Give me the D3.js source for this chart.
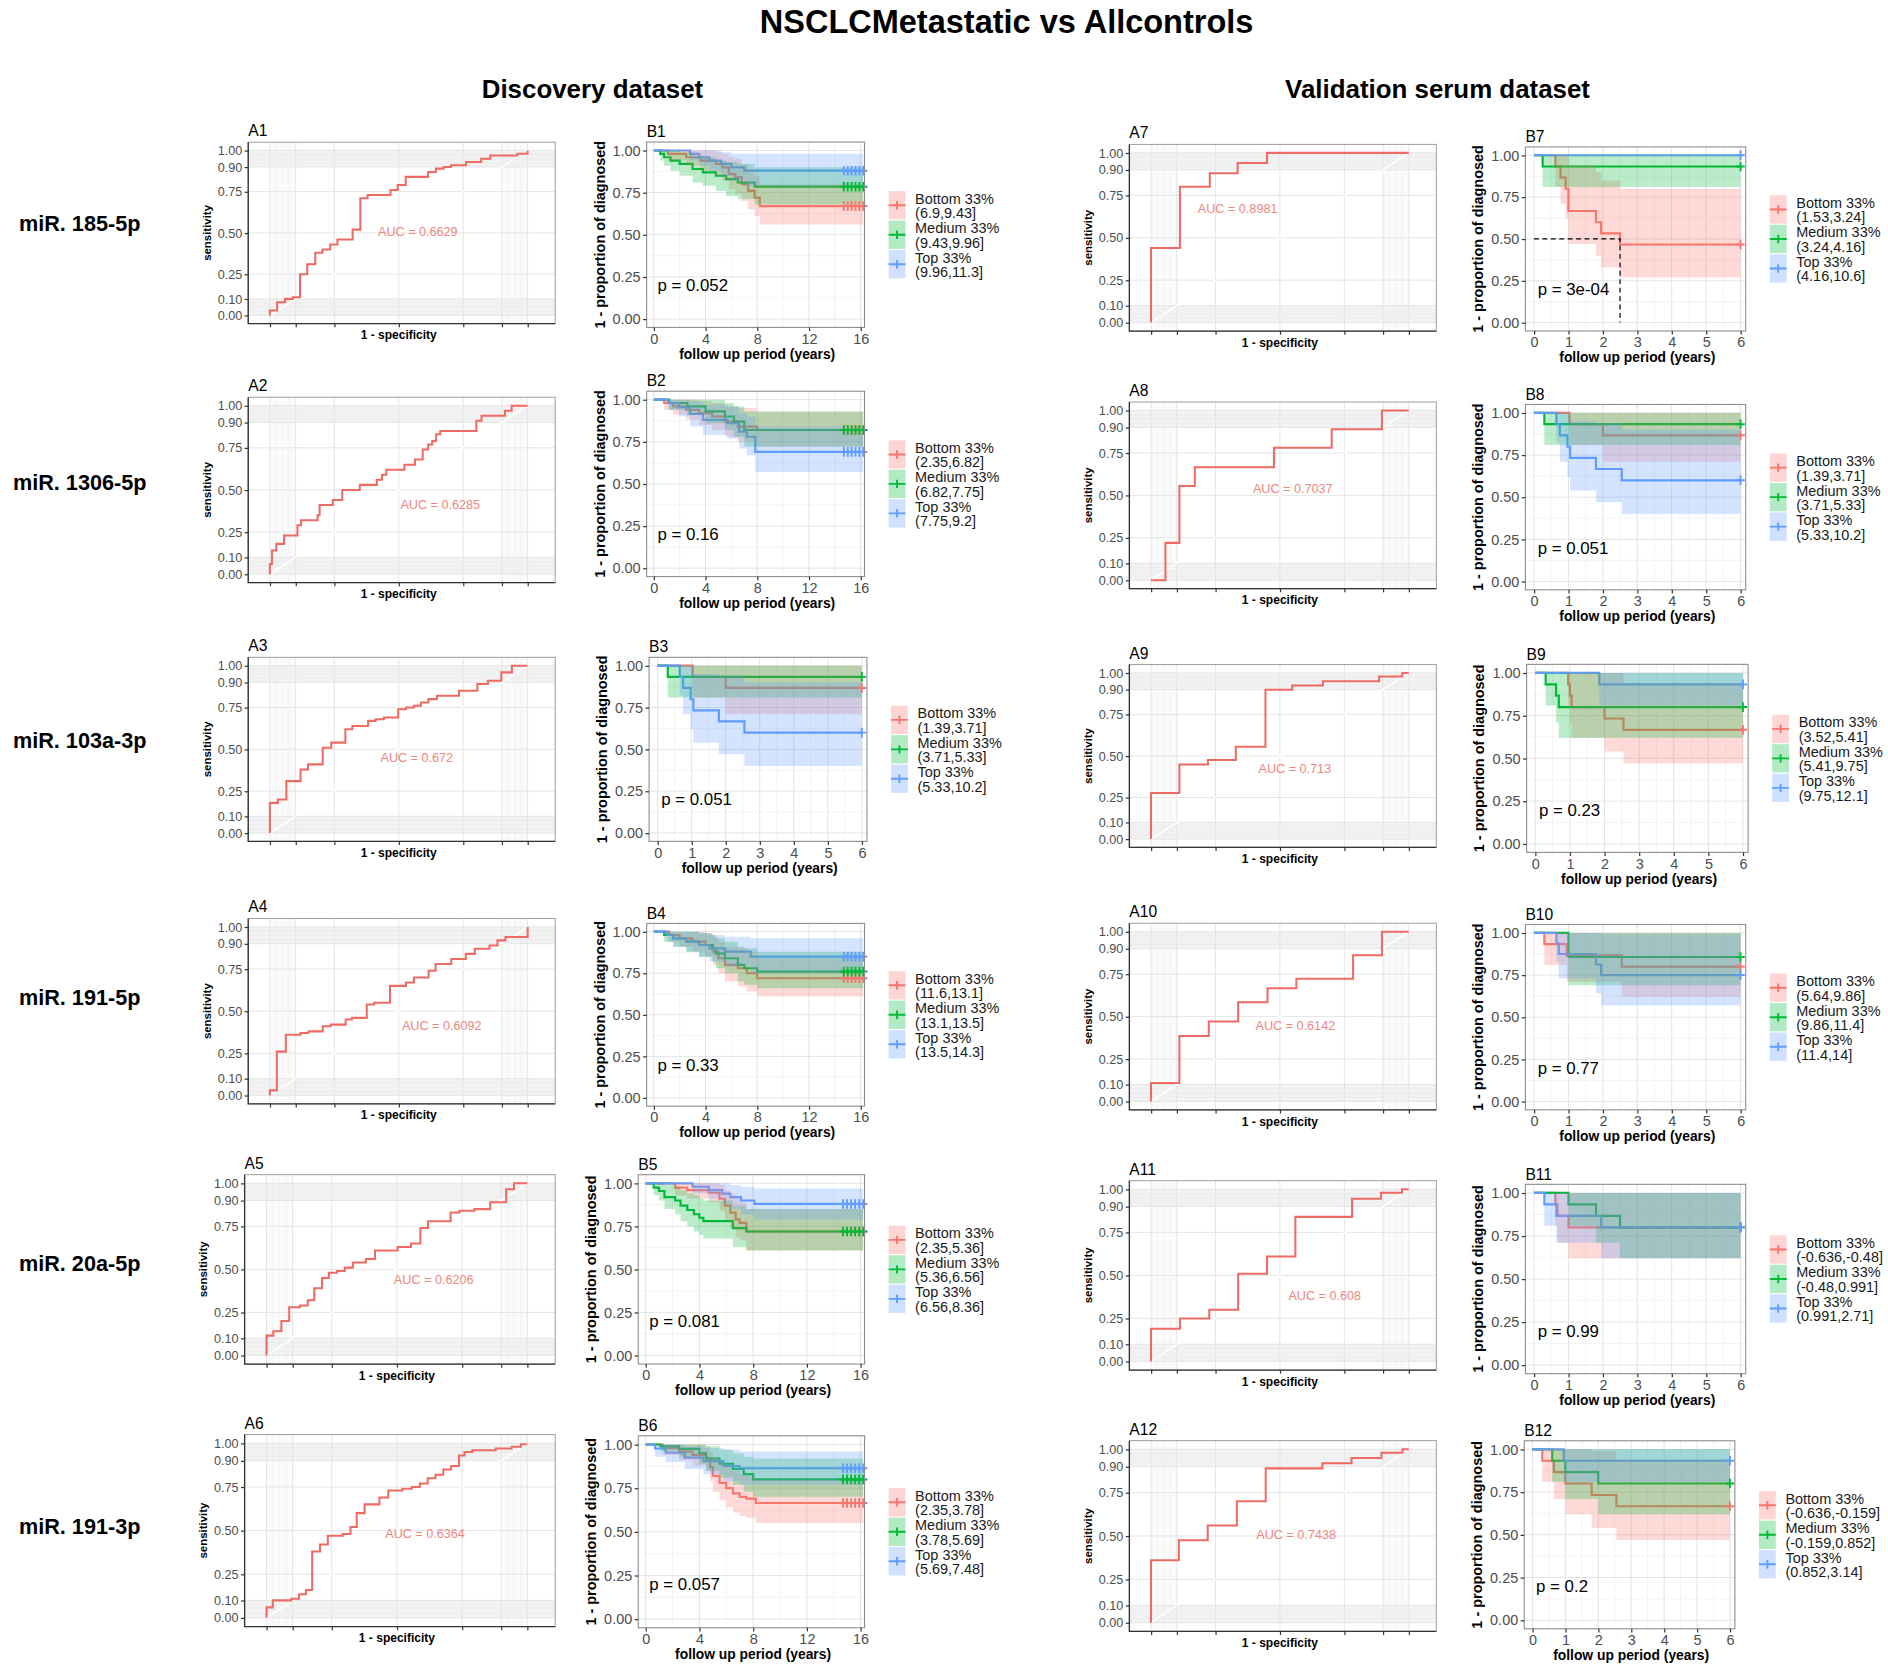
<!DOCTYPE html>
<html>
<head>
<meta charset="utf-8">
<script src="https://cdn.jsdelivr.net/npm/d3@7"></script>
<style>
  body { margin: 0; background: #fff; }
  svg { display: block; }
</style>
</head>
<body>
<svg id="fig" width="1888" height="1666" viewBox="0 0 1568 1384"></svg>
<script>
"use strict";

/* ── Texts ─────────────────────────────────────────────────────────── */
const TITLE    = "NSCLCMetastatic vs Allcontrols";
const DATASETS = ["Discovery dataset", "Validation serum dataset"];
const MIRNAS   = ["miR. 185-5p", "miR. 1306-5p", "miR. 103a-3p", "miR. 191-5p", "miR. 20a-5p", "miR. 191-3p"];
const AUC_VALUES = ["0.6629", "0.6285", "0.672", "0.6092", "0.6206", "0.6364",
                    "0.8981", "0.7037", "0.713", "0.6142", "0.608", "0.7438"];
const P_VALUES   = ["0.052", "0.16", "0.051", "0.33", "0.081", "0.057",
                    "3e-04", "0.051", "0.23", "0.77", "0.99", "0.2"];
const GROUP_NAMES  = ["Bottom 33%", "Medium 33%", "Top 33%"];
const GROUP_RANGES = [
  ["(6.9,9.43]",   "(9.43,9.96]",  "(9.96,11.3]"],
  ["(2.35,6.82]",  "(6.82,7.75]",  "(7.75,9.2]"],
  ["(1.39,3.71]",  "(3.71,5.33]",  "(5.33,10.2]"],
  ["(11.6,13.1]",  "(13.1,13.5]",  "(13.5,14.3]"],
  ["(2.35,5.36]",  "(5.36,6.56]",  "(6.56,8.36]"],
  ["(2.35,3.78]",  "(3.78,5.69]",  "(5.69,7.48]"],
  ["(1.53,3.24]",  "(3.24,4.16]",  "(4.16,10.6]"],
  ["(1.39,3.71]",  "(3.71,5.33]",  "(5.33,10.2]"],
  ["(3.52,5.41]",  "(5.41,9.75]",  "(9.75,12.1]"],
  ["(5.64,9.86]",  "(9.86,11.4]",  "(11.4,14]"],
  ["(-0.636,-0.48]", "(-0.48,0.991]", "(0.991,2.71]"],
  ["(-0.636,-0.159]", "(-0.159,0.852]", "(0.852,3.14]"],
];

/* ── Axis breaks ───────────────────────────────────────────────────── */
const ROC_BREAKS  = [0, 0.1, 0.25, 0.5, 0.75, 0.9, 1];
const KM_Y_BREAKS = [0, 0.25, 0.5, 0.75, 1];
const KM_X_LONG   = [0, 4, 8, 12, 16];
const KM_X_SHORT  = [0, 1, 2, 3, 4, 5, 6];

/* ── ROC curves: [1 - specificity, sensitivity] step corners ───────── */
const ROC_A1  = [[0,0],[0.028,0.03],[0.059,0.08],[0.089,0.10],[0.117,0.11],[0.145,0.25],[0.176,0.31],[0.204,0.38],[0.234,0.40],[0.262,0.43],[0.321,0.46],[0.351,0.52],[0.379,0.71],[0.468,0.73],[0.496,0.76],[0.527,0.79],[0.614,0.84],[0.644,0.87],[0.674,0.89],[0.703,0.90],[0.761,0.91],[0.820,0.93],[0.855,0.95],[0.960,0.97],[1,0.98],[1,1]];
const ROC_A2  = [[0,0],[0.008,0.06],[0.025,0.14],[0.055,0.18],[0.107,0.23],[0.121,0.29],[0.185,0.32],[0.193,0.35],[0.244,0.41],[0.281,0.44],[0.349,0.50],[0.415,0.53],[0.435,0.56],[0.452,0.59],[0.522,0.62],[0.563,0.65],[0.593,0.68],[0.614,0.74],[0.630,0.77],[0.645,0.79],[0.661,0.83],[0.801,0.85],[0.821,0.91],[0.912,0.94],[0.938,0.97],[1,1]];
const ROC_A3  = [[0,0],[0.031,0.18],[0.064,0.20],[0.119,0.31],[0.148,0.38],[0.205,0.41],[0.238,0.51],[0.293,0.54],[0.320,0.62],[0.381,0.64],[0.410,0.67],[0.443,0.68],[0.498,0.69],[0.529,0.74],[0.559,0.75],[0.586,0.76],[0.615,0.78],[0.648,0.80],[0.734,0.82],[0.805,0.85],[0.846,0.89],[0.898,0.91],[0.939,0.96],[1,1]];
const ROC_A4  = [[0,0],[0.027,0.03],[0.062,0.26],[0.119,0.36],[0.150,0.37],[0.205,0.38],[0.236,0.41],[0.294,0.42],[0.318,0.45],[0.376,0.46],[0.405,0.54],[0.466,0.55],[0.528,0.65],[0.559,0.67],[0.616,0.70],[0.643,0.74],[0.704,0.78],[0.760,0.81],[0.795,0.84],[0.852,0.87],[0.883,0.89],[0.914,0.92],[1,0.94],[1,1]];
const ROC_A5  = [[0,0],[0.026,0.115],[0.057,0.14],[0.087,0.20],[0.128,0.28],[0.158,0.29],[0.183,0.32],[0.213,0.39],[0.239,0.45],[0.270,0.48],[0.300,0.49],[0.331,0.51],[0.381,0.54],[0.416,0.56],[0.503,0.61],[0.554,0.63],[0.590,0.65],[0.619,0.74],[0.706,0.78],[0.740,0.83],[0.797,0.84],[0.858,0.85],[0.919,0.89],[0.949,0.965],[1,1]];
const ROC_A6  = [[0,0],[0.024,0.06],[0.095,0.10],[0.125,0.11],[0.151,0.135],[0.175,0.16],[0.205,0.38],[0.235,0.42],[0.292,0.47],[0.322,0.48],[0.346,0.52],[0.376,0.60],[0.433,0.65],[0.467,0.69],[0.521,0.73],[0.557,0.74],[0.588,0.75],[0.618,0.77],[0.648,0.80],[0.678,0.82],[0.708,0.85],[0.738,0.87],[0.759,0.93],[0.789,0.95],[0.879,0.96],[0.940,0.97],[0.976,0.98],[1,0.995]];
const ROC_A7  = [[0,0],[0.112,0.44],[0.228,0.80],[0.336,0.88],[0.450,0.94],[1,1]];
const ROC_A8  = [[0,0],[0.056,0],[0.110,0.22],[0.170,0.555],[0.477,0.665],[0.701,0.78],[0.896,0.89],[1,1]];
const ROC_A9  = [[0,0],[0.110,0.277],[0.221,0.448],[0.329,0.476],[0.444,0.556],[0.548,0.898],[0.667,0.924],[0.885,0.95],[0.975,0.978],[1,1]];
const ROC_A10 = [[0,0],[0.110,0.109],[0.224,0.386],[0.338,0.471],[0.452,0.584],[0.564,0.667],[0.784,0.723],[0.896,0.861],[1,1]];
const ROC_A11 = [[0,0],[0.112,0.19],[0.226,0.25],[0.338,0.30],[0.450,0.51],[0.560,0.61],[0.780,0.84],[0.892,0.945],[0.974,0.98],[1,1]];
const ROC_A12 = [[0,0],[0.108,0.36],[0.220,0.475],[0.333,0.56],[0.445,0.70],[0.665,0.89],[0.778,0.92],[0.894,0.95],[0.976,0.98],[1,1]];

/* ── Kaplan-Meier steps: [time, estimate, lower CI, upper CI] ──────── */
const KM_B1_BOTTOM = [[0,1,1,1],[1.1,0.98,0.94,1],[2.5,0.96,0.91,1],[3.6,0.94,0.88,1],[4.8,0.92,0.85,0.99],[5.3,0.90,0.82,0.98],[5.8,0.86,0.77,0.96],[6.3,0.84,0.74,0.95],[6.8,0.80,0.70,0.92],[7.3,0.76,0.65,0.89],[7.8,0.72,0.61,0.85],[8.2,0.67,0.56,0.80]];
const KM_B1_MEDIUM = [[0,1,1,1],[0.5,0.98,0.94,1],[0.8,0.96,0.91,1],[1.3,0.94,0.88,1],[2.0,0.92,0.85,0.99],[3.0,0.89,0.81,0.97],[3.8,0.87,0.79,0.96],[4.8,0.85,0.76,0.94],[5.6,0.83,0.73,0.93],[6.5,0.81,0.71,0.92],[7.8,0.785,0.68,0.90]];
const KM_B1_TOP    = [[0,1,1,1],[2.8,0.98,0.94,1],[3.5,0.96,0.91,1],[4.3,0.94,0.88,1],[5.2,0.92,0.85,0.99],[6.0,0.90,0.82,0.98],[7.0,0.88,0.79,0.98]];

const KM_B2_BOTTOM = [[0,1,1,1],[0.8,0.98,0.94,1],[1.5,0.96,0.91,1],[2.5,0.94,0.88,1],[3.5,0.92,0.85,0.99],[4.5,0.90,0.82,0.98],[5.5,0.87,0.78,0.96],[6.5,0.84,0.75,0.95],[8.0,0.82,0.72,0.93]];
const KM_B2_MEDIUM = [[0,1,1,1],[1.2,0.98,0.94,1],[2.6,0.96,0.91,1],[4.0,0.93,0.86,1],[5.5,0.90,0.82,0.98],[6.2,0.87,0.78,0.96],[7.0,0.82,0.72,0.93]];
const KM_B2_TOP    = [[0,1,1,1],[1.1,0.98,0.94,1],[1.95,0.955,0.90,1],[2.8,0.915,0.84,0.99],[3.8,0.88,0.79,0.97],[5.7,0.86,0.77,0.96],[6.6,0.81,0.71,0.92],[7.2,0.78,0.67,0.90],[7.85,0.69,0.57,0.84]];

const KM_B3_BOTTOM = [[0,1,1,1],[1.03,0.933,0.81,1],[2.0,0.867,0.71,1]];
const KM_B3_MEDIUM = [[0,1,1,1],[0.3,0.933,0.81,1]];
const KM_B3_TOP    = [[0,1,1,1],[0.65,0.933,0.82,1],[0.75,0.867,0.71,1],[0.97,0.80,0.62,1],[1.05,0.733,0.54,0.95],[1.8,0.667,0.47,0.94],[2.55,0.60,0.40,0.90]];

const KM_B4_BOTTOM = [[0,1,1,1],[1.2,0.98,0.94,1],[2.0,0.96,0.91,1],[3.0,0.94,0.88,1],[4.0,0.92,0.85,0.99],[4.6,0.88,0.80,0.97],[5.0,0.84,0.75,0.94],[5.5,0.80,0.70,0.91],[6.5,0.78,0.67,0.90],[7.2,0.75,0.64,0.88],[8.0,0.72,0.61,0.84]];
const KM_B4_MEDIUM = [[0,1,1,1],[0.8,0.98,0.94,1],[1.5,0.96,0.91,1],[2.5,0.94,0.88,1],[3.5,0.92,0.85,0.99],[4.5,0.90,0.82,0.98],[4.8,0.87,0.78,0.96],[5.5,0.84,0.75,0.94],[6.5,0.80,0.70,0.91],[7.0,0.78,0.68,0.90],[8.0,0.76,0.66,0.88]];
const KM_B4_TOP    = [[0,1,1,1],[1.0,0.98,0.94,1],[1.5,0.96,0.91,1],[2.5,0.94,0.88,1],[3.5,0.92,0.85,0.99],[4.3,0.90,0.82,0.98],[5.5,0.88,0.79,0.97],[7.5,0.85,0.75,0.96]];

const KM_B5_BOTTOM = [[0,1,1,1],[2.2,0.975,0.93,1],[3.1,0.96,0.91,1],[4.7,0.945,0.89,1],[5.5,0.91,0.84,0.99],[5.9,0.87,0.79,0.96],[6.3,0.83,0.74,0.94],[6.7,0.79,0.69,0.91],[7.0,0.77,0.67,0.89],[7.5,0.72,0.61,0.85]];
const KM_B5_MEDIUM = [[0,1,1,1],[0.6,0.975,0.93,1],[1.0,0.955,0.90,1],[1.4,0.92,0.85,0.99],[2.2,0.90,0.82,0.98],[2.6,0.87,0.78,0.96],[3.1,0.845,0.75,0.94],[3.6,0.82,0.72,0.93],[4.0,0.80,0.70,0.91],[4.3,0.78,0.68,0.90],[6.5,0.74,0.63,0.87],[7.5,0.72,0.61,0.85]];
const KM_B5_TOP    = [[0,1,1,1],[3.5,0.98,0.94,1],[4.7,0.96,0.91,1],[5.7,0.94,0.88,1],[6.3,0.92,0.85,0.99],[7.1,0.90,0.82,0.98],[8.1,0.88,0.79,0.97]];

const KM_B6_BOTTOM = [[0,1,1,1],[1.3,0.98,0.94,1],[2.5,0.96,0.91,1],[3.5,0.94,0.88,1],[4.5,0.92,0.85,0.99],[4.8,0.87,0.79,0.96],[5.0,0.82,0.73,0.93],[5.5,0.78,0.68,0.90],[6.0,0.75,0.64,0.88],[6.5,0.72,0.61,0.85],[7.0,0.70,0.59,0.83],[7.5,0.69,0.58,0.82],[8.2,0.665,0.55,0.80]];
const KM_B6_MEDIUM = [[0,1,1,1],[1.1,0.99,0.96,1],[2.5,0.975,0.93,1],[4.0,0.95,0.89,1],[4.5,0.92,0.85,0.99],[5.5,0.89,0.81,0.97],[6.5,0.86,0.77,0.95],[7.3,0.83,0.73,0.93],[8.0,0.80,0.70,0.92]];
const KM_B6_TOP    = [[0,1,1,1],[0.7,0.977,0.93,1],[1.5,0.953,0.90,1],[2.9,0.925,0.86,0.99],[4.3,0.905,0.83,0.98],[5.8,0.877,0.79,0.97],[7.0,0.864,0.77,0.96]];

const KM_B7_BOTTOM = [[0,1,1,1],[0.62,0.933,0.81,1],[0.77,0.867,0.71,1],[0.92,0.80,0.62,1],[1.0,0.667,0.47,0.94],[1.8,0.60,0.40,0.90],[1.95,0.533,0.33,0.85],[2.5,0.467,0.27,0.80]];
const KM_B7_MEDIUM = [[0,1,1,1],[0.25,0.933,0.81,1]];
const KM_B7_TOP    = [[0,1,1,1]];
const KM_B7_MEDIAN = [2.5, 0.5];

const KM_B8_BOTTOM = [[0,1,1,1],[1.03,0.933,0.81,1],[2.0,0.867,0.71,1]];
const KM_B8_MEDIUM = [[0,1,1,1],[0.3,0.933,0.81,1]];
const KM_B8_TOP    = [[0,1,1,1],[0.65,0.933,0.82,1],[0.75,0.867,0.71,1],[0.97,0.80,0.62,1],[1.05,0.733,0.54,0.95],[1.8,0.667,0.47,0.94],[2.55,0.60,0.40,0.90]];

const KM_B9_BOTTOM = [[0,1,1,1],[0.95,0.933,0.81,1],[1.0,0.867,0.71,1],[1.05,0.80,0.62,1],[2.0,0.733,0.54,1],[2.55,0.667,0.47,0.94]];
const KM_B9_MEDIUM = [[0,1,1,1],[0.3,0.933,0.81,1],[0.6,0.867,0.71,1],[0.68,0.80,0.62,1]];
const KM_B9_TOP    = [[0,1,1,1],[1.85,0.933,0.81,1]];

const KM_B10_BOTTOM = [[0,1,1,1],[0.3,0.933,0.81,1],[0.95,0.867,0.71,1],[2.55,0.80,0.62,1]];
const KM_B10_MEDIUM = [[0,1,1,1],[1.0,0.857,0.69,1]];
const KM_B10_TOP    = [[0,1,1,1],[0.65,0.9375,0.83,1],[0.72,0.875,0.73,1],[1.8,0.8125,0.64,1],[1.95,0.75,0.57,0.99]];

const KM_B11_BOTTOM = [[0,1,1,1],[0.62,0.933,0.81,1],[0.68,0.867,0.71,1],[1.0,0.80,0.62,1]];
const KM_B11_MEDIUM = [[0,1,1,1],[1.0,0.933,0.81,1],[1.8,0.867,0.71,1],[2.5,0.80,0.62,1]];
const KM_B11_TOP    = [[0,1,1,1],[0.3,0.933,0.81,1],[0.65,0.867,0.71,1],[1.95,0.80,0.62,1]];

const KM_B12_BOTTOM = [[0,1,1,1],[0.3,0.933,0.81,1],[0.65,0.867,0.71,1],[1.0,0.80,0.62,1],[1.8,0.733,0.54,0.99],[2.55,0.667,0.47,0.94]];
const KM_B12_MEDIUM = [[0,1,1,1],[0.6,0.933,0.81,1],[1.0,0.867,0.71,1],[2.0,0.80,0.62,1]];
const KM_B12_TOP    = [[0,1,1,1],[0.95,0.933,0.81,1]];

/* censoring times (the "+" marks) */
const CENSOR_16Y = [14.7, 15.0, 15.3, 15.6, 15.9, 16.2];
const CENSOR_6Y  = [6];

/* ── Panel assembly (data references) ─────────────────────────────── */
const ROC_SERIES = [ROC_A1, ROC_A2, ROC_A3, ROC_A4, ROC_A5, ROC_A6,
                    ROC_A7, ROC_A8, ROC_A9, ROC_A10, ROC_A11, ROC_A12];
const KM_SERIES = [
  [KM_B1_BOTTOM,  KM_B1_MEDIUM,  KM_B1_TOP],
  [KM_B2_BOTTOM,  KM_B2_MEDIUM,  KM_B2_TOP],
  [KM_B3_BOTTOM,  KM_B3_MEDIUM,  KM_B3_TOP],
  [KM_B4_BOTTOM,  KM_B4_MEDIUM,  KM_B4_TOP],
  [KM_B5_BOTTOM,  KM_B5_MEDIUM,  KM_B5_TOP],
  [KM_B6_BOTTOM,  KM_B6_MEDIUM,  KM_B6_TOP],
  [KM_B7_BOTTOM,  KM_B7_MEDIUM,  KM_B7_TOP],
  [KM_B8_BOTTOM,  KM_B8_MEDIUM,  KM_B8_TOP],
  [KM_B9_BOTTOM,  KM_B9_MEDIUM,  KM_B9_TOP],
  [KM_B10_BOTTOM, KM_B10_MEDIUM, KM_B10_TOP],
  [KM_B11_BOTTOM, KM_B11_MEDIUM, KM_B11_TOP],
  [KM_B12_BOTTOM, KM_B12_MEDIUM, KM_B12_TOP],
];
const KM_CENSOR = [CENSOR_16Y, CENSOR_16Y, CENSOR_6Y, CENSOR_16Y, CENSOR_16Y, CENSOR_16Y,
                   CENSOR_6Y, CENSOR_6Y, CENSOR_6Y, CENSOR_6Y, CENSOR_6Y, CENSOR_6Y];
const KM_MEDIANS = [null, null, null, null, null, null, KM_B7_MEDIAN, null, null, null, null, null];

/* ── Layout (pixels in a 1568 x 1384 view box) ────────────────────── */
const ROC_X_PX = [[206,461],[206,461],[206,461],[206,461],[203,461],[203,461],
                  [938,1193],[938,1193],[938,1193],[938,1193],[938,1193],[938,1193]];
/* pixel rows of the 1.00 and 0.00 ticks */
const ROC_Y_PX = [[125,262],[337,477],[553,692],[770,910],[983,1126],[1199,1344],
                  [127,268],[341,482],[559,697],[774,915],[988,1131],[1204,1348]];
const KM_X_PX  = [[537,718],[537,718],[539,720],[537,718],[530,718],[530,718],
                  [1267,1450],[1267,1450],[1268,1452],[1267,1450],[1267,1450],[1266,1441]];
const KM_Y_PX  = [[125,265],[332,472],[553,692],[774,912],[983,1126],[1200,1345],
                  [129,268],[343,483],[559,701],[775,915],[991,1134],[1204,1346]];
const AUC_POS  = [[0.574,0.51],[0.661,0.416],[0.570,0.452],[0.667,0.417],[0.641,0.443],[0.608,0.482],
                  [0.336,0.673],[0.55,0.541],[0.558,0.422],[0.56,0.446],[0.674,0.382],[0.563,0.506]];
const ROW_LABEL_Y = [186, 401, 615, 829, 1050, 1268];

const FONT      = "'Liberation Sans', Arial, Helvetica, sans-serif";
const COLORS    = ["#F8766D", "#00BA38", "#619CFF"];
const ROC_COLOR = "#EE6B64";
const AUC_COLOR = "#EE8680";

const svg = d3.select("#fig").attr("font-family", FONT);

/* ── ROC panel ────────────────────────────────────────────────────── */
function drawROC(i) {
  const [bx0, bx1] = ROC_X_PX[i];
  const [p1, p0]   = ROC_Y_PX[i];
  const pad = 0.05 * (p0 - p1);
  const top = p1 - pad, bottom = p0 + pad;
  const x = d3.scaleLinear().domain([-0.084, 1.107]).range([bx0, bx1]);
  const y = d3.scaleLinear().domain([0, 1]).range([p0, p1]);
  const g = svg.append("g").attr("class", "roc");

  g.append("rect").attr("x", bx0).attr("y", top).attr("width", bx1 - bx0)
    .attr("height", bottom - top).attr("fill", "#fff");

  /* very light bands at both ends of each axis */
  [[0, 0.1], [0.9, 1]].forEach(function (b) {
    g.append("rect").attr("x", x(b[0])).attr("y", top)
      .attr("width", x(b[1]) - x(b[0])).attr("height", bottom - top).attr("fill", "#fbfbfb");
  });
  [[0, 0.1], [0.9, 1]].forEach(function (b) {
    g.append("rect").attr("x", bx0).attr("y", y(b[1]))
      .attr("width", bx1 - bx0).attr("height", y(b[0]) - y(b[1])).attr("fill", "#f2f2f2");
  });
  const fine = [0.025, 0.05, 0.075, 0.925, 0.95, 0.975];
  g.selectAll(".vfine").data(fine).enter().append("line")
    .attr("x1", d => x(d)).attr("x2", d => x(d)).attr("y1", top).attr("y2", bottom)
    .attr("stroke", "#ececec").attr("stroke-width", 0.5);
  g.selectAll(".hfine").data(fine).enter().append("line")
    .attr("x1", bx0).attr("x2", bx1).attr("y1", d => y(d)).attr("y2", d => y(d))
    .attr("stroke", "#e9e9e9").attr("stroke-width", 0.5);

  /* major grid */
  g.selectAll(".vgrid").data(ROC_BREAKS).enter().append("line")
    .attr("x1", d => x(d)).attr("x2", d => x(d)).attr("y1", top).attr("y2", bottom)
    .attr("stroke", "#e4e4e4").attr("stroke-width", 0.8);
  g.selectAll(".hgrid").data(ROC_BREAKS).enter().append("line")
    .attr("x1", bx0).attr("x2", bx1).attr("y1", d => y(d)).attr("y2", d => y(d))
    .attr("stroke", "#e4e4e4").attr("stroke-width", 0.8);

  /* chance diagonal */
  g.append("line").attr("x1", x(0)).attr("y1", y(0)).attr("x2", x(1)).attr("y2", y(1))
    .attr("stroke", "#fff").attr("stroke-width", 1.2);

  const line = d3.line().x(d => x(d[0])).y(d => y(d[1])).curve(d3.curveStepBefore);
  g.append("path").datum(ROC_SERIES[i]).attr("d", line)
    .attr("fill", "none").attr("stroke", ROC_COLOR).attr("stroke-width", 1.7);

  g.append("text").attr("x", x(AUC_POS[i][0])).attr("y", y(AUC_POS[i][1]))
    .attr("dy", "0.35em").attr("text-anchor", "middle")
    .attr("font-size", 10.5).attr("fill", AUC_COLOR)
    .text("AUC = " + AUC_VALUES[i]);

  /* frame + axes */
  g.append("rect").attr("x", bx0).attr("y", top).attr("width", bx1 - bx0)
    .attr("height", bottom - top).attr("fill", "none").attr("stroke", "#9a9a9a").attr("stroke-width", 0.8);
  g.append("path").attr("d", "M" + bx0 + "," + top + "V" + bottom + "H" + bx1)
    .attr("fill", "none").attr("stroke", "#333").attr("stroke-width", 1.1);

  const ay = g.append("g").attr("transform", "translate(" + bx0 + ",0)")
    .call(d3.axisLeft(y).tickValues(ROC_BREAKS).tickFormat(d3.format(".2f")).tickSize(3).tickPadding(2));
  const ax = g.append("g").attr("transform", "translate(0," + bottom + ")")
    .call(d3.axisBottom(x).tickValues(ROC_BREAKS).tickFormat("").tickSize(3));
  [ay, ax].forEach(function (a) {
    a.select(".domain").remove();
    a.selectAll(".tick line").attr("stroke", "#333");
    a.selectAll(".tick text").attr("font-family", FONT).attr("font-size", 10.5).attr("fill", "#4d4d4d");
  });

  g.append("text").attr("transform", "translate(" + (bx0 - 31) + "," + ((top + bottom) / 2) + ") rotate(-90)")
    .attr("text-anchor", "middle").attr("font-weight", "bold").attr("font-size", 9.5).text("sensitivity");
  g.append("text").attr("x", x(0.5)).attr("y", bottom + 13)
    .attr("text-anchor", "middle").attr("font-weight", "bold").attr("font-size", 10).text("1 - specificity");
  g.append("text").attr("x", bx0).attr("y", top - 5).attr("font-size", 13).text("A" + (i + 1));
}

/* ── Kaplan-Meier panel ───────────────────────────────────────────── */
function drawKM(i) {
  const [bx0, bx1] = KM_X_PX[i];
  const [p1, p0]   = KM_Y_PX[i];
  const pad = 0.05 * (p0 - p1);
  const top = p1 - pad, bottom = p0 + pad;
  const cens  = KM_CENSOR[i];
  const tEnd  = d3.max(cens);
  const long  = tEnd > 10;
  const ticks = long ? KM_X_LONG : KM_X_SHORT;
  const x = d3.scaleLinear().domain(long ? [-0.55, 16.3] : [-0.25, 6.15]).range([bx0, bx1]);
  const y = d3.scaleLinear().domain([0, 1]).range([p0, p1]);
  const g = svg.append("g").attr("class", "km");

  g.append("rect").attr("x", bx0).attr("y", top).attr("width", bx1 - bx0)
    .attr("height", bottom - top).attr("fill", "#fff");

  const step = ticks[1] - ticks[0];
  const xMinor = ticks.slice(1).map(t => t - step / 2);
  const yMinor = KM_Y_BREAKS.slice(1).map(t => t - 0.125);
  g.selectAll(".vminor").data(xMinor).enter().append("line")
    .attr("x1", d => x(d)).attr("x2", d => x(d)).attr("y1", top).attr("y2", bottom)
    .attr("stroke", "#f0f0f0").attr("stroke-width", 0.6);
  g.selectAll(".hminor").data(yMinor).enter().append("line")
    .attr("x1", bx0).attr("x2", bx1).attr("y1", d => y(d)).attr("y2", d => y(d))
    .attr("stroke", "#f0f0f0").attr("stroke-width", 0.6);
  g.selectAll(".vgrid").data(ticks).enter().append("line")
    .attr("x1", d => x(d)).attr("x2", d => x(d)).attr("y1", top).attr("y2", bottom)
    .attr("stroke", "#e2e2e2").attr("stroke-width", 0.8);
  g.selectAll(".hgrid").data(KM_Y_BREAKS).enter().append("line")
    .attr("x1", bx0).attr("x2", bx1).attr("y1", d => y(d)).attr("y2", d => y(d))
    .attr("stroke", "#e2e2e2").attr("stroke-width", 0.8);

  /* extend each step table to the end of follow-up */
  const groups = KM_SERIES[i].map(function (rows) {
    const last = rows[rows.length - 1];
    return rows.concat([[tEnd, last[1], last[2], last[3]]]);
  });

  const line = d3.line().x(d => x(d[0])).y(d => y(d[1])).curve(d3.curveStepAfter);
  const area = d3.area().x(d => x(d[0])).y0(d => y(d[2])).y1(d => y(d[3])).curve(d3.curveStepAfter);

  groups.forEach(function (rows, k) {
    g.append("path").datum(rows).attr("d", line).attr("fill", "none")
      .attr("stroke", COLORS[k]).attr("stroke-width", 1.8);
  });
  groups.forEach(function (rows, k) {
    g.append("path").datum(rows).attr("d", area).attr("fill", COLORS[k]).attr("fill-opacity", 0.27);
  });

  /* censor marks */
  groups.forEach(function (rows, k) {
    cens.forEach(function (c) {
      let s = 1;
      rows.forEach(function (r) { if (r[0] <= c) s = r[1]; });
      const cx = x(c), cy = y(s);
      g.append("path").attr("d", "M" + (cx - 3.5) + "," + cy + "H" + (cx + 3.5) + "M" + cx + "," + (cy - 4) + "V" + (cy + 4))
        .attr("stroke", COLORS[k]).attr("stroke-width", 1.6).attr("fill", "none");
    });
  });

  const med = KM_MEDIANS[i];
  if (med) {
    g.append("path").attr("d", "M" + x(0) + "," + y(med[1]) + "H" + x(med[0]) + "V" + y(0))
      .attr("fill", "none").attr("stroke", "#000").attr("stroke-width", 1).attr("stroke-dasharray", "4,3");
  }

  g.append("text").attr("x", x(0) + 3).attr("y", y(0.2)).attr("dy", "0.35em")
    .attr("font-size", 14).text("p = " + P_VALUES[i]);

  g.append("rect").attr("x", bx0).attr("y", top).attr("width", bx1 - bx0)
    .attr("height", bottom - top).attr("fill", "none").attr("stroke", "#8c8c8c").attr("stroke-width", 0.9);

  const ay = g.append("g").attr("transform", "translate(" + bx0 + ",0)")
    .call(d3.axisLeft(y).tickValues(KM_Y_BREAKS).tickFormat(d3.format(".2f")).tickSize(3).tickPadding(2));
  const ax = g.append("g").attr("transform", "translate(0," + bottom + ")")
    .call(d3.axisBottom(x).tickValues(ticks).tickFormat(d3.format("d")).tickSize(3).tickPadding(2));
  [ay, ax].forEach(function (a) {
    a.select(".domain").remove();
    a.selectAll(".tick line").attr("stroke", "#333");
    a.selectAll(".tick text").attr("font-family", FONT).attr("font-size", 12).attr("fill", "#4d4d4d");
  });

  g.append("text").attr("transform", "translate(" + (bx0 - 35) + "," + ((top + bottom) / 2) + ") rotate(-90)")
    .attr("text-anchor", "middle").attr("font-weight", "bold").attr("font-size", 12)
    .text("1 - proportion of diagnosed");
  g.append("text").attr("x", (x(ticks[0]) + x(ticks[ticks.length - 1])) / 2).attr("y", bottom + 26)
    .attr("text-anchor", "middle").attr("font-weight", "bold").attr("font-size", 11.5)
    .text("follow up period (years)");
  g.append("text").attr("x", bx0).attr("y", top - 4).attr("font-size", 13).text("B" + (i + 1));

  /* legend */
  const keyX = bx1 + 20, textX = bx1 + 42, keyH = 24.5, keyW = 14;
  const legTop = (top + bottom) / 2 - 1.5 * keyH;
  GROUP_NAMES.forEach(function (name, k) {
    const ky = legTop + k * keyH;
    g.append("rect").attr("x", keyX).attr("y", ky + 0.5).attr("width", keyW).attr("height", keyH - 1)
      .attr("fill", COLORS[k]).attr("fill-opacity", 0.3);
    g.append("path").attr("d", "M" + keyX + "," + (ky + keyH / 2) + "H" + (keyX + keyW) +
        "M" + (keyX + keyW / 2) + "," + (ky + keyH / 2 - 3.5) + "V" + (ky + keyH / 2 + 3.5))
      .attr("stroke", COLORS[k]).attr("stroke-width", 1.6).attr("fill", "none");
    g.append("text").attr("x", textX).attr("y", ky + 11).attr("font-size", 12).attr("fill", "#1a1a1a").text(name);
    g.append("text").attr("x", textX).attr("y", ky + 23).attr("font-size", 12).attr("fill", "#1a1a1a").text(GROUP_RANGES[i][k]);
  });
}

/* ── Headings ─────────────────────────────────────────────────────── */
svg.append("text").attr("x", 836).attr("y", 27).attr("text-anchor", "middle")
  .attr("font-weight", "bold").attr("font-size", 27).text(TITLE);
svg.selectAll(".dataset").data(DATASETS).enter().append("text")
  .attr("x", (d, k) => k === 0 ? 492 : 1194).attr("y", 81).attr("text-anchor", "middle")
  .attr("font-weight", "bold").attr("font-size", 21.5).text(d => d);
svg.selectAll(".mirna").data(MIRNAS).enter().append("text")
  .attr("x", 66).attr("y", (d, k) => ROW_LABEL_Y[k] + 6).attr("text-anchor", "middle")
  .attr("font-weight", "bold").attr("font-size", 18).text(d => d);

d3.range(12).forEach(function (i) { drawROC(i); drawKM(i); });
</script>
</body>
</html>
